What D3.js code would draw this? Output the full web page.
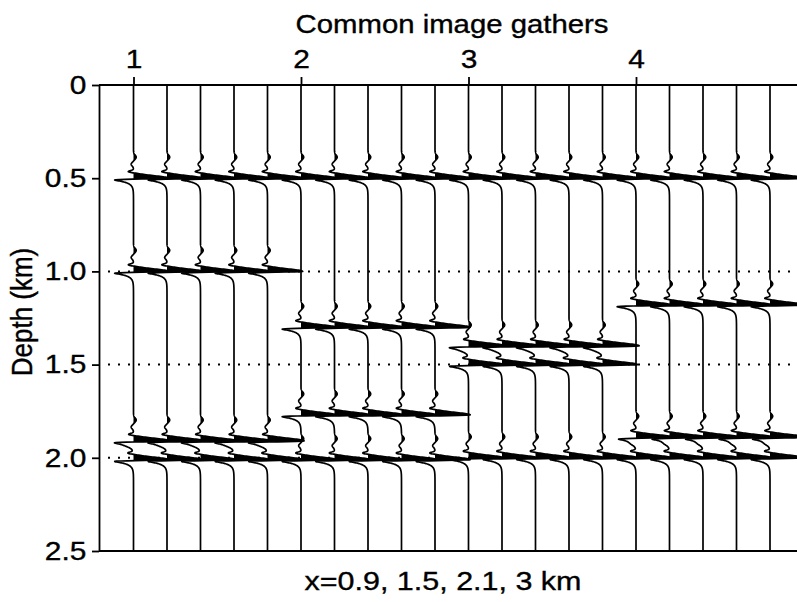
<!DOCTYPE html>
<html>
<head>
<meta charset="utf-8">
<script src="https://cdn.jsdelivr.net/npm/d3@7"></script>
<style>
  body { margin: 0; background: #fff; }
  text { font-family: "Liberation Sans", Arial, Helvetica, sans-serif; fill: #000; stroke: #000; stroke-width: 0.35px; }
</style>
</head>
<body>
<div class="graph-content"></div>
<script>
// gathers and their tick labels
var gathers = [1, 2, 3, 4];
var tracesPerGather = 5;
var depthTicks = [0, 0.5, 1.0, 1.5, 2.0, 2.5];
var depthLabels = ["0", "0.5", "1.0", "1.5", "2.0", "2.5"];
var dottedDepths = [1.0, 1.5, 2.0];

// reflector depths (km) picked in each gather
var events1 = [0.50, 1.00, 1.91, 2.01];
var events2 = [0.50, 1.30, 1.77, 2.01];
var events3 = [0.50, 1.40, 1.50, 2.00];
var events4 = [0.50, 1.18, 1.89, 2.00];
// relative amplitude of each reflector
var amps1 = [1, 1, 1, 1];
var amps2 = [1, 1, 1, 1];
var amps3 = [1, 1, 1, 1];
var amps4 = [1, 1, 1, 1];

var eventLists = [events1, events2, events3, events4];
var ampLists = [amps1, amps2, amps3, amps4];

var W = 797, H = 602;
var plotLeft = 99, plotTop = 85, plotBottom = 551, plotRight = 800;
var stretch = 1.15;

var svg = d3.select(".graph-content").append("svg")
    .attr("width", W)
    .attr("height", H)
    .style("display", "block");

var nTraces = gathers.length * tracesPerGather;
var x = d3.scaleLinear().domain([0, nTraces - 1]).range([133.5, 770]);
var y = d3.scaleLinear().domain([0, 2.5]).range([plotTop, plotBottom]);
var spacing = x(1) - x(0);

// wavelet shape, s = pixels below the reflector peak
function wavelet(s)
{
    var main = s < 0 ? Math.exp(-(s / 3.4) * (s / 3.4)) : Math.exp(-(s / 0.8) * (s / 0.8));
    var post = s > 0 ? -0.66 * (1 - Math.exp(-Math.pow(s / 1.3, 3))) * Math.exp(-Math.max(0, s - 1.6) / 2.6) : 0;
    var pre = -0.18 * Math.exp(-Math.pow((s + 6.5) / 1.4, 2));
    var prec = 0.08 * Math.exp(-Math.pow((s + 21) / 3, 2)) - 0.07 * Math.exp(-Math.pow((s + 14) / 2.5, 2));
    return 1.05 * main + post + pre + prec;
}

// dotted reference lines
svg.selectAll(".dots")
    .data(dottedDepths)
    .enter().append("line")
    .attr("x1", 108)
    .attr("x2", plotRight)
    .attr("y1", function(d) { return y(d); })
    .attr("y2", function(d) { return y(d); })
    .attr("stroke", "#000")
    .attr("stroke-width", 2)
    .attr("stroke-dasharray", "2,8");

// build traces
var traces = [];
for (var i = 0; i < nTraces; i++)
{
    var g = Math.floor(i / tracesPerGather);
    var evs = eventLists[g], amps = ampLists[g];
    var pts = [];
    for (var py = plotTop; py <= plotBottom; py += 0.2)
    {
        var v = 0;
        for (var k = 0; k < evs.length; k++)
        {
            v += amps[k] * wavelet(py - y(evs[k]));
        }
        pts.push({ py: py, v: v });
    }
    traces.push({ index: i, pts: pts });
}

var area = d3.area()
    .y(function(d) { return d.py; })
    .x0(0)
    .x1(function(d) { return Math.max(0, d.v) * spacing; });

var line = d3.line()
    .y(function(d) { return d.py; })
    .x(function(d) { return d.v * spacing; });

var traceG = svg.selectAll(".trace")
    .data(traces)
    .enter().append("g")
    .attr("class", "trace")
    .attr("transform", function(d) { return "translate(" + x(d.index) + ",0)"; });

traceG.append("path")
    .attr("d", function(d) { return area(d.pts); })
    .attr("fill", "#000");

traceG.append("path")
    .attr("d", function(d) { return line(d.pts); })
    .attr("fill", "none")
    .attr("stroke", "#000")
    .attr("stroke-width", 1.7)
    .attr("stroke-linejoin", "round");

// frame
svg.append("line")
    .attr("x1", plotLeft).attr("x2", plotRight)
    .attr("y1", plotTop).attr("y2", plotTop)
    .attr("stroke", "#000").attr("stroke-width", 1.8);
svg.append("line")
    .attr("x1", plotLeft).attr("x2", plotRight)
    .attr("y1", plotBottom).attr("y2", plotBottom)
    .attr("stroke", "#000").attr("stroke-width", 1.8);

// top axis: gather numbers
var topAxis = svg.append("g")
    .attr("transform", "translate(0," + plotTop + ")")
    .call(d3.axisTop(x)
        .tickValues(gathers.map(function(d, i) { return i * tracesPerGather; }))
        .tickFormat(function(d, i) { return gathers[i]; })
        .tickSize(8)
        .tickPadding(9));
topAxis.select(".domain").remove();

// left axis: depth
var leftAxis = svg.append("g")
    .attr("transform", "translate(" + plotLeft + ",0)")
    .call(d3.axisLeft(y)
        .tickValues(depthTicks)
        .tickFormat(function(d, i) { return depthLabels[i]; })
        .tickSize(7)
        .tickSizeOuter(0)
        .tickPadding(4));

svg.selectAll(".tick line, .domain")
    .attr("stroke", "#000")
    .attr("stroke-width", 1.8);

svg.selectAll(".tick text")
    .attr("font-family", "Liberation Sans, Arial, sans-serif")
    .attr("font-size", 26)
    .attr("fill", "#000")
    .attr("transform", "scale(" + stretch + ",1)");

// titles
svg.append("text")
    .attr("transform", "translate(452,33) scale(" + stretch + ",1)")
    .attr("text-anchor", "middle")
    .attr("font-size", 25.5)
    .text("Common image gathers");

svg.append("text")
    .attr("transform", "translate(443,590) scale(" + stretch + ",1)")
    .attr("text-anchor", "middle")
    .attr("font-size", 26.5)
    .text("x=0.9, 1.5, 2.1, 3 km");

svg.append("text")
    .attr("transform", "translate(32,312) rotate(-90) scale(1," + stretch + ")")
    .attr("text-anchor", "middle")
    .attr("font-size", 26)
    .text("Depth (km)");
</script>
</body>
</html>
